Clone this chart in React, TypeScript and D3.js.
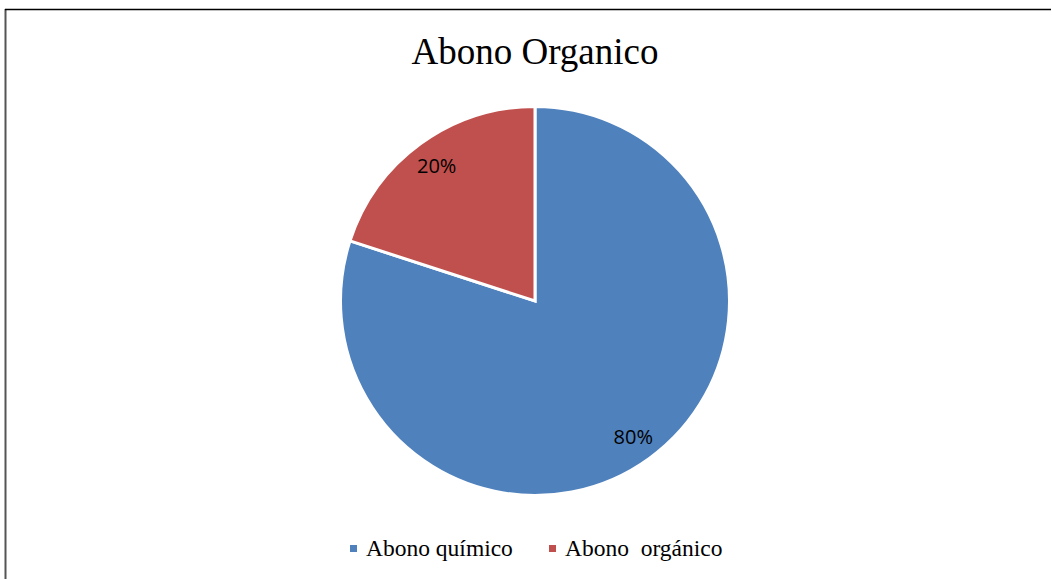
import React from "react";
import * as d3 from "d3";

const categories = ["Abono químico", "Abono  orgánico"];
const values = [80, 20];
const labels = ["80%", "20%"];
const colors = ["#4F81BD", "#C0504D"];

const W = 1052;
const H = 579;

export default function App() {
  const cx = 535;
  const cy = 301;
  const radius = 194.5;

  const pie = d3.pie<number>().sort(null).value((d) => d);
  const slices = pie(values);
  const arc = d3.arc<d3.PieArcDatum<number>>().innerRadius(0).outerRadius(radius);
  const labelArc = d3
    .arc<d3.PieArcDatum<number>>()
    .innerRadius(radius * 0.86)
    .outerRadius(radius * 0.86);

  const legendX = [350, 549];

  return (
    <svg
      width={W}
      height={H}
      style={{ position: "absolute", left: 0, top: 0, background: "#fff" }}
    >
      {/* frame */}
      <line x1={5.5} y1={9} x2={5.5} y2={H} stroke="#555" strokeWidth={2} />
      <line x1={5} y1={9.5} x2={W - 1} y2={9.5} stroke="#000" strokeWidth={1.5} />

      <text
        x={535}
        y={64}
        textAnchor="middle"
        fontFamily="'Liberation Serif', 'Times New Roman', serif"
        fontSize={37}
        fill="#000"
      >
        Abono Organico
      </text>

      <g transform={`translate(${cx},${cy})`}>
        {slices.map((s, i) => (
          <path
            key={i}
            d={arc(s) || ""}
            fill={colors[i]}
            stroke="#fff"
            strokeWidth={3}
            strokeLinejoin="miter"
          />
        ))}
        {slices.map((s, i) => {
          const [x, y] = labelArc.centroid(s);
          return (
            <text
              key={"l" + i}
              x={x}
              y={y}
              textAnchor="middle"
              dominantBaseline="central"
              fontFamily="'Open Sans', 'Liberation Sans', sans-serif"
              fontSize={20}
              fill="#000"
            >
              {labels[i]}
            </text>
          );
        })}
      </g>

      {categories.map((c, i) => (
        <g key={"lg" + i} transform={`translate(${legendX[i]},0)`}>
          <rect x={0} y={545} width={7} height={7} fill={colors[i]} />
          <text
            x={16}
            y={556}
            fontFamily="'Liberation Serif', 'Times New Roman', serif"
            fontSize={23.5}
            fill="#000"
            style={{ whiteSpace: "pre" }}
          >
            {c}
          </text>
        </g>
      ))}
    </svg>
  );
}
